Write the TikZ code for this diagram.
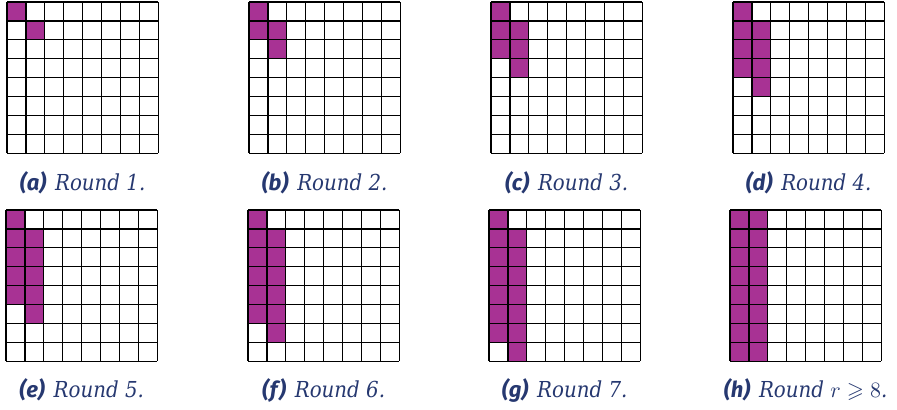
\documentclass[tikz,border=0pt]{standalone}
\usepackage{amssymb}
\usepackage{fontspec}
\newfontfamily\labfont{Fira Sans}
\newfontfamily\capfont{DejaVu Serif Condensed}
\definecolor{fillc}{RGB}{168,50,148}
\definecolor{capc}{RGB}{38,56,112}
\tikzset{
  cell/.style={fill=fillc},
  gridline/.style={line width=0.65pt, black},
  caption/.style={text=capc, font=\capfont\fontsize{11}{13}\selectfont\itshape, anchor=base, inner sep=0pt}
}
\newcommand\lbl[1]{{\labfont\bfseries\itshape (#1)}\hspace{0.4em}}
\begin{document}
\begin{tikzpicture}[x=0.5pt,y=-0.5pt]
\useasboundingbox (0,0) rectangle (897,409);
\def\c{18.9}
% filled cells, rounds 1..7
\foreach \k/\gx/\gy in {1/7/2,2/249/2,3/491/2,4/733/2,5/6/210,6/248/210,7/489/210} {
  \fill[cell] (\gx,\gy) rectangle ++(\c,\k*\c);
  \fill[cell] (\gx+\c,\gy+\c) rectangle ++(\c,\k*\c);
}
% round >= 8
\fill[cell] (730,210) rectangle ++(2*\c,8*\c);
% grids
\foreach \gx/\gy in {7/2,249/2,491/2,733/2,6/210,248/210,489/210,730/210} {
  \foreach \i in {0,...,8} {
    \draw[gridline] (\gx+\i*\c,\gy) -- ++(0,8*\c);
    \draw[gridline] (\gx,\gy+\i*\c) -- ++(8*\c,0);
  }
}
% captions
\node[caption] (capa) at (7+4*\c,190) {\lbl{a}Round 1.};
\node[caption] (capb) at (249+4*\c,190) {\lbl{b}Round 2.};
\node[caption] (capc) at (491+4*\c,190) {\lbl{c}Round 3.};
\node[caption] (capd) at (733+4*\c,190) {\lbl{d}Round 4.};
\node[caption] (cape) at (6+4*\c,397) {\lbl{e}Round 5.};
\node[caption] (capf) at (248+4*\c,397) {\lbl{f}Round 6.};
\node[caption] (capg) at (489+4*\c,397) {\lbl{g}Round 7.};
\node[caption] (caph) at (730+4*\c,397) {\lbl{h}Round $r \geqslant 8$.};
\end{tikzpicture}
\end{document}
